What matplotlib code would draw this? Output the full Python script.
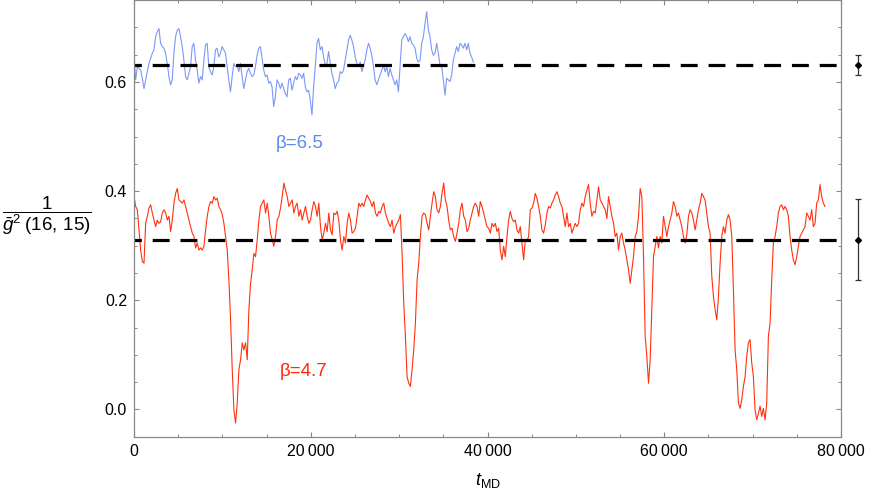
import numpy as np
import matplotlib.pyplot as plt
from matplotlib.ticker import MultipleLocator, FuncFormatter

plt.rcParams['font.family'] = ['Liberation Sans', 'DejaVu Sans']
plt.rcParams['mathtext.fontset'] = 'custom'
plt.rcParams['mathtext.rm'] = 'Liberation Sans'
plt.rcParams['mathtext.it'] = 'Liberation Sans:italic'

# MD history of 1/gbar^2(16,15)
beta65 = [0.646, 0.604, 0.628, 0.625, 0.622, 0.607, 0.588, 0.604, 0.619, 0.634,
          0.643, 0.653, 0.659, 0.683, 0.692, 0.698, 0.671, 0.665, 0.662, 0.653,
          0.634, 0.610, 0.595, 0.604, 0.653, 0.683, 0.695, 0.698, 0.683, 0.665,
          0.640, 0.610, 0.604, 0.616, 0.628, 0.665, 0.671, 0.640, 0.622, 0.598,
          0.610, 0.604, 0.640, 0.668, 0.671, 0.628, 0.619, 0.613, 0.628, 0.659,
          0.662, 0.646, 0.653, 0.665, 0.659, 0.653, 0.628, 0.604, 0.582, 0.610,
          0.634, 0.628, 0.631, 0.619, 0.634, 0.610, 0.588, 0.604, 0.619, 0.625,
          0.616, 0.610, 0.613, 0.628, 0.649, 0.662, 0.665, 0.643, 0.622, 0.610,
          0.613, 0.598, 0.601, 0.591, 0.555, 0.573, 0.604, 0.598, 0.588, 0.598,
          0.588, 0.579, 0.573, 0.604, 0.607, 0.585, 0.598, 0.610, 0.604, 0.616,
          0.613, 0.607, 0.616, 0.591, 0.582, 0.585, 0.567, 0.540, 0.591, 0.628,
          0.671, 0.680, 0.659, 0.665, 0.646, 0.631, 0.634, 0.656, 0.634, 0.616,
          0.604, 0.588, 0.598, 0.601, 0.619, 0.616, 0.622, 0.640, 0.659, 0.677,
          0.686, 0.677, 0.665, 0.646, 0.634, 0.628, 0.637, 0.619, 0.631, 0.640,
          0.659, 0.671, 0.662, 0.649, 0.628, 0.604, 0.595, 0.604, 0.613, 0.622,
          0.631, 0.619, 0.628, 0.610, 0.625, 0.613, 0.604, 0.595, 0.604, 0.582,
          0.628, 0.677, 0.683, 0.689, 0.683, 0.674, 0.683, 0.671, 0.668, 0.662,
          0.643, 0.637, 0.640, 0.671, 0.683, 0.708, 0.729, 0.695, 0.683, 0.659,
          0.649, 0.653, 0.671, 0.653, 0.631, 0.628, 0.604, 0.576, 0.607, 0.604,
          0.601, 0.613, 0.640, 0.653, 0.665, 0.656, 0.671, 0.668, 0.662, 0.671,
          0.659, 0.671, 0.653, 0.646, 0.637]
t65_end = 38390

beta47 = [0.390, 0.372, 0.366, 0.329, 0.292, 0.271, 0.268, 0.341, 0.354, 0.369,
          0.375, 0.360, 0.347, 0.335, 0.347, 0.341, 0.344, 0.360, 0.366, 0.360,
          0.347, 0.354, 0.326, 0.347, 0.378, 0.396, 0.405, 0.384, 0.381, 0.378,
          0.384, 0.372, 0.360, 0.347, 0.335, 0.323, 0.317, 0.296, 0.305, 0.292,
          0.296, 0.292, 0.299, 0.329, 0.354, 0.372, 0.381, 0.378, 0.390, 0.384,
          0.387, 0.372, 0.366, 0.357, 0.341, 0.317, 0.292, 0.237, 0.164, 0.073,
          -0.001, -0.025, 0.012, 0.073, 0.091, 0.122, 0.109, 0.122, 0.091, 0.183,
          0.231, 0.256, 0.286, 0.280, 0.311, 0.347, 0.372, 0.378, 0.384, 0.360,
          0.378, 0.354, 0.323, 0.311, 0.299, 0.317, 0.347, 0.354, 0.369, 0.390,
          0.415, 0.402, 0.390, 0.372, 0.378, 0.384, 0.360, 0.372, 0.378, 0.354,
          0.366, 0.347, 0.360,
          0.372, 0.354, 0.341, 0.347, 0.366, 0.381, 0.372, 0.354, 0.378, 0.335,
          0.311, 0.323, 0.341, 0.326, 0.360, 0.329, 0.320, 0.360, 0.357, 0.363,
          0.347, 0.311, 0.292, 0.317, 0.305, 0.341, 0.360, 0.347, 0.323, 0.326,
          0.332, 0.354, 0.378, 0.372, 0.378, 0.372, 0.384, 0.393, 0.387, 0.381,
          0.372, 0.381, 0.360, 0.354, 0.363, 0.360, 0.372, 0.378, 0.360, 0.350,
          0.341, 0.335, 0.347, 0.323, 0.335, 0.341, 0.347, 0.357, 0.286, 0.195,
          0.134, 0.060, 0.048, 0.042, 0.073, 0.109, 0.158, 0.237, 0.268, 0.317,
          0.354, 0.360, 0.357, 0.341, 0.329, 0.354, 0.378, 0.399, 0.390, 0.366,
          0.360, 0.372, 0.396, 0.415, 0.384, 0.372, 0.347, 0.329, 0.332, 0.317,
          0.308, 0.323, 0.341, 0.366, 0.378, 0.354, 0.347, 0.326, 0.332, 0.347,
          0.360, 0.372, 0.378, 0.372, 0.354,
          0.381, 0.372, 0.360, 0.347, 0.335, 0.332, 0.323, 0.341, 0.335, 0.341,
          0.326, 0.332, 0.292, 0.274, 0.299, 0.280, 0.317, 0.347, 0.363, 0.350,
          0.344, 0.347, 0.329, 0.323, 0.335, 0.305, 0.274, 0.311, 0.308, 0.317,
          0.366, 0.369, 0.378, 0.396, 0.387, 0.372, 0.354, 0.329, 0.323, 0.338,
          0.360, 0.372, 0.369, 0.378, 0.384, 0.393, 0.399, 0.390, 0.378, 0.372,
          0.354, 0.335, 0.360, 0.335, 0.341, 0.323, 0.332, 0.341, 0.335, 0.341,
          0.366, 0.378, 0.372, 0.390, 0.402, 0.412, 0.378, 0.354, 0.363, 0.360,
          0.384, 0.408, 0.384, 0.378, 0.372, 0.366, 0.350, 0.390, 0.372, 0.354,
          0.341, 0.317, 0.323, 0.292, 0.317, 0.323, 0.305, 0.292, 0.274, 0.256,
          0.231, 0.256, 0.280, 0.317, 0.326, 0.354, 0.405, 0.390, 0.280, 0.134,
          0.097, 0.048, 0.091, 0.183, 0.280,
          0.299, 0.317, 0.296, 0.317, 0.305, 0.354, 0.335, 0.317, 0.335, 0.347,
          0.360, 0.381, 0.372, 0.354, 0.360, 0.347, 0.335, 0.317, 0.305, 0.320,
          0.354, 0.366, 0.360, 0.347, 0.329, 0.347, 0.366, 0.378, 0.396, 0.390,
          0.384, 0.360, 0.335, 0.323, 0.244, 0.207, 0.183, 0.164, 0.207, 0.268,
          0.317, 0.335, 0.323, 0.347, 0.357, 0.347, 0.317, 0.219, 0.109, 0.073,
          0.012, 0.002, 0.018, 0.042, 0.060, 0.097, 0.122, 0.128, 0.085, 0.060,
          -0.001, -0.019, -0.007, 0.006, -0.013, 0.002, -0.019, 0.012, 0.134, 0.158,
          0.237, 0.305, 0.317, 0.335, 0.360, 0.372, 0.375, 0.366, 0.372, 0.366,
          0.354, 0.317, 0.292, 0.274, 0.265, 0.280, 0.299, 0.317, 0.323, 0.329,
          0.335, 0.360, 0.354, 0.347, 0.366, 0.335, 0.341, 0.378, 0.384, 0.412,
          0.390, 0.378, 0.372]
t47_end = 78190

# averages with errors (drawn at the right, outside the frame)
means = [0.631, 0.311]
errs = [0.019, 0.074]
err_t = 81900

blue = '#7d98f8'
red = '#ff3210'

t65 = np.linspace(0, t65_end, len(beta65))
t47 = np.linspace(0, t47_end, len(beta47))

fig = plt.figure(figsize=(8.72, 4.91), dpi=100)
ax = fig.add_axes([134/872, 1 - 436.7/491, 707/872, 436.5/491])

ax.plot(t65, beta65, color=blue, lw=0.8)
ax.plot(t47, beta47, color=red, lw=0.8)
for m in means:
    ax.axhline(m, color='black', lw=2.3, linestyle=(3.0, (5.3, 3.4)))
ax.errorbar([err_t]*2, means, yerr=errs, fmt='D', ms=3, color='black',
            ecolor='#333333', elinewidth=0.9, capsize=2.5, capthick=0.9, clip_on=False)

ax.text(18780, 0.488, '\u03b2=6.5', color='#5f88f0', fontsize=13.5, ha='center', va='center')
ax.text(19240, 0.069, '\u03b2=4.7', color='#ff2a0a', fontsize=13.5, ha='center', va='center')

ax.set_xlim(0, 80000)
ax.set_ylim(-0.05, 0.75)
ax.xaxis.set_major_locator(MultipleLocator(20000))
ax.xaxis.set_minor_locator(MultipleLocator(5000))
ax.yaxis.set_major_locator(MultipleLocator(0.2))
ax.yaxis.set_minor_locator(MultipleLocator(0.05))
ax.xaxis.set_major_formatter(FuncFormatter(lambda v, p: f"{int(v):,}".replace(",", "\u2009")))
ax.yaxis.set_major_formatter(FuncFormatter(lambda v, p: f"{v:.1f}"))
ax.tick_params(which='both', direction='in', top=True, right=True, color='#888888',
               labelsize=11.5, labelcolor='black', pad=5)
ax.tick_params(which='major', length=3.8, width=0.8)
ax.tick_params(which='minor', length=2.3, width=0.7)
for s in ax.spines.values():
    s.set_color('#888888')
    s.set_linewidth(0.9)

ax.set_xlabel(r'$t_{\mathrm{MD}}$', fontsize=13)
ax.xaxis.set_label_coords(0.5, -0.101)
ax.xaxis.label.set_va('center')
fig.text(47/872, 1 - 216/491, r'$\dfrac{1}{\bar{g}^2\;(16,\,15)}$', fontsize=13.5,
         ha='center', va='center')

plt.savefig('out.png', dpi=100)
